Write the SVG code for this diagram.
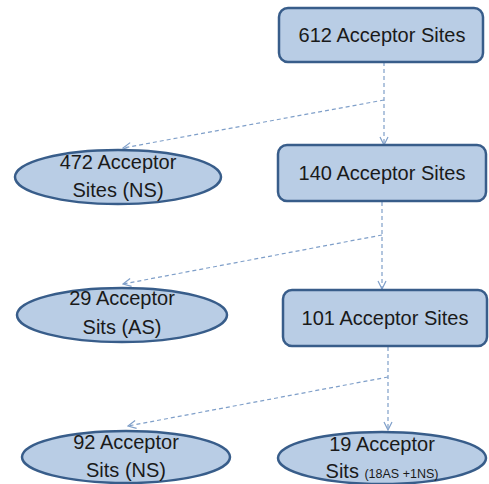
<svg xmlns="http://www.w3.org/2000/svg" width="489" height="484" viewBox="0 0 489 484">
<style>
.box{fill:#b9cde5;stroke:#385d8a;stroke-width:2.5}
.t{font-family:"Liberation Sans",Arial,sans-serif;font-size:20px;fill:#1a1a1a;text-anchor:middle}
.s{font-size:12.5px}
.c{fill:none;stroke:#7f9fc9;stroke-width:1.2;stroke-dasharray:4,3}
</style>
<defs>
<marker id="a" markerWidth="10" markerHeight="10" refX="9" refY="5" orient="auto" markerUnits="userSpaceOnUse">
<path d="M1,1 L9,5 L1,9" fill="none" stroke="#7f9fc9" stroke-width="1.2"/>
</marker>
</defs>
<rect width="489" height="484" fill="#fff"/>
<g id="connectors">
<path class="c" d="M384,62 V145" marker-end="url(#a)"/>
<path class="c" d="M384,100 L123,148" marker-end="url(#a)"/>
<path class="c" d="M382,202 V289" marker-end="url(#a)"/>
<path class="c" d="M382,235 L123,284" marker-end="url(#a)"/>
<path class="c" d="M388,347 V430" marker-end="url(#a)"/>
<path class="c" d="M388,377 L128,426" marker-end="url(#a)"/>
</g>
<g id="n612"><rect class="box" x="279" y="8" width="204" height="54" rx="9"/><text class="t" x="382" y="42">612 Acceptor Sites</text></g>
<g id="n472"><ellipse class="box" cx="118" cy="177" rx="103" ry="27"/><text class="t" x="118" y="169">472 Acceptor</text><text class="t" x="118" y="197">Sites (NS)</text></g>
<g id="n140"><rect class="box" x="278" y="145" width="208" height="56" rx="9"/><text class="t" x="382" y="180">140 Acceptor Sites</text></g>
<g id="n29"><ellipse class="box" cx="122" cy="315" rx="105" ry="27"/><text class="t" x="122" y="305">29 Acceptor</text><text class="t" x="122" y="334">Sits (AS)</text></g>
<g id="n101"><rect class="box" x="283" y="290" width="204" height="56" rx="9"/><text class="t" x="385" y="325">101 Acceptor Sites</text></g>
<g id="n92"><ellipse class="box" cx="126" cy="457" rx="104" ry="26"/><text class="t" x="126" y="449">92 Acceptor</text><text class="t" x="126" y="477">Sits (NS)</text></g>
<g id="n19"><ellipse class="box" cx="382" cy="458" rx="104" ry="26"/><text class="t" x="382" y="451">19 Acceptor</text><text class="t" x="382" y="478">Sits <tspan class="s">(18AS +1NS)</tspan></text></g>
</svg>
